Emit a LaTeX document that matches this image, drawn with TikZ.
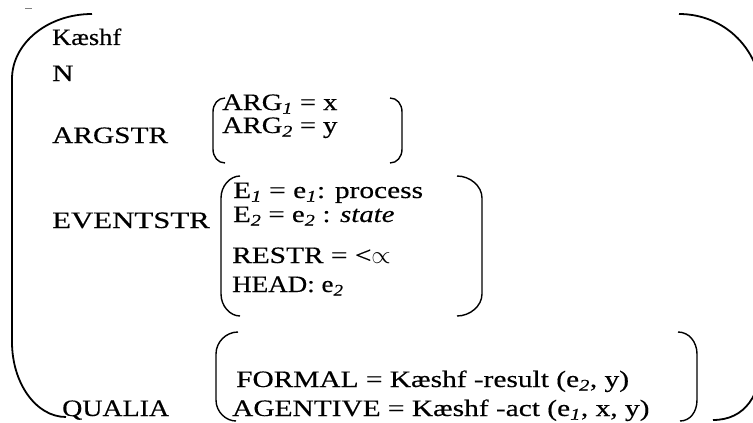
\documentclass[tikz,border=0pt]{standalone}
\usepackage{fontspec}
\setmainfont{Liberation Serif}[FakeStretch=1.25, FakeBold=0.4]
\newcommand{\isub}[1]{\textsubscript{\textit{#1}}}

\begin{document}
\begin{tikzpicture}[x=1pt, y=-1pt, line join=round,
    feat/.style={anchor=base west, inner sep=0pt,
                 text height=16pt, text depth=3.5pt,
                 font=\fontsize{23.5}{28}\selectfont},
    outerbrak/.style={draw=black, line width=1.8pt},
    brak/.style={draw=black, line width=1.4pt}]
  \useasboundingbox (0,0) rectangle (753,423);

  % ---- attribute names down the left
  \node[feat] (kashf)  at (52,45)  {\scalebox{0.9}[1]{Kæshf}};
  \node[feat] (cat)    at (52,81)  {N};
  \node[feat] (argstr) at (52,143) {ARGSTR};
  \node[feat] (evstr)  at (52,228) {\scalebox{1.05}[1]{EVENTSTR}};
  \node[feat] (qualia) at (62,416) {\scalebox{0.95}[1]{QUALIA}};

  % ---- argument structure
  \node[feat] (arg1) at (222,110) {\scalebox{0.97}[1]{ARG\isub{1} = x}};
  \node[feat] (arg2) at (222,133) {\scalebox{0.97}[1]{ARG\isub{2} = y}};

  % ---- event structure
  \node[feat] (ev1)   at (233,198) {E\isub{1} = e\isub{1}: process};
  \node[feat] (ev2)   at (233,222) {\scalebox{0.98}[1]{E\isub{2} = e\isub{2} : \textit{state}}};
  \node[feat] (restr) at (232,263) {RESTR = <$\propto$};
  \node[feat] (head)  at (232,292) {\scalebox{0.92}[1]{HEAD: e\isub{2}}};

  % ---- qualia structure
  \node[feat] (formal)   at (236,387) {FORMAL = Kæshf -result (e\isub{2}, y)};
  \node[feat] (agentive) at (232,416) {AGENTIVE = Kæshf -act (e\isub{1}, x, y)};

  % ---- the big bracket round the whole entry
  \draw[outerbrak] (92,14) .. controls (48,14) and (12,43) .. (12,79)
    -- (12,342) .. controls (12,383) and (36,417) .. (66,417);
  \draw[outerbrak] (679,14) .. controls (725,14) and (762,50) .. (762,100)
    -- (762,355) .. controls (762,395) and (745,420) .. (713,420);

  % ---- inner brackets
  \draw[brak] (225,98) .. controls (218,98) and (213,104) .. (213,112)
    -- (213,149) .. controls (213,157) and (218,163) .. (225,163);
  \draw[brak] (390,98) .. controls (397,98) and (402,104) .. (402,112)
    -- (402,149) .. controls (402,157) and (397,163) .. (390,163);

  \draw[brak] (240,176) .. controls (230,176) and (221,186) .. (221,198)
    -- (221,294) .. controls (221,306) and (230,316) .. (240,316);
  \draw[brak] (457,176) .. controls (470,176) and (482,186) .. (482,198)
    -- (482,294) .. controls (482,306) and (470,316) .. (457,316);

  \draw[brak] (238,332) .. controls (226,332) and (216,342) .. (216,354)
    -- (216,400) .. controls (216,412) and (226,421) .. (236,421);
  \draw[brak] (678,332) .. controls (689,332) and (697,342) .. (697,354)
    -- (697,400) .. controls (697,412) and (690,421) .. (680,421);

  % stray tick top left
  \draw[gray, line width=0.6pt] (25,8) -- (32,8);
\end{tikzpicture}
\end{document}
